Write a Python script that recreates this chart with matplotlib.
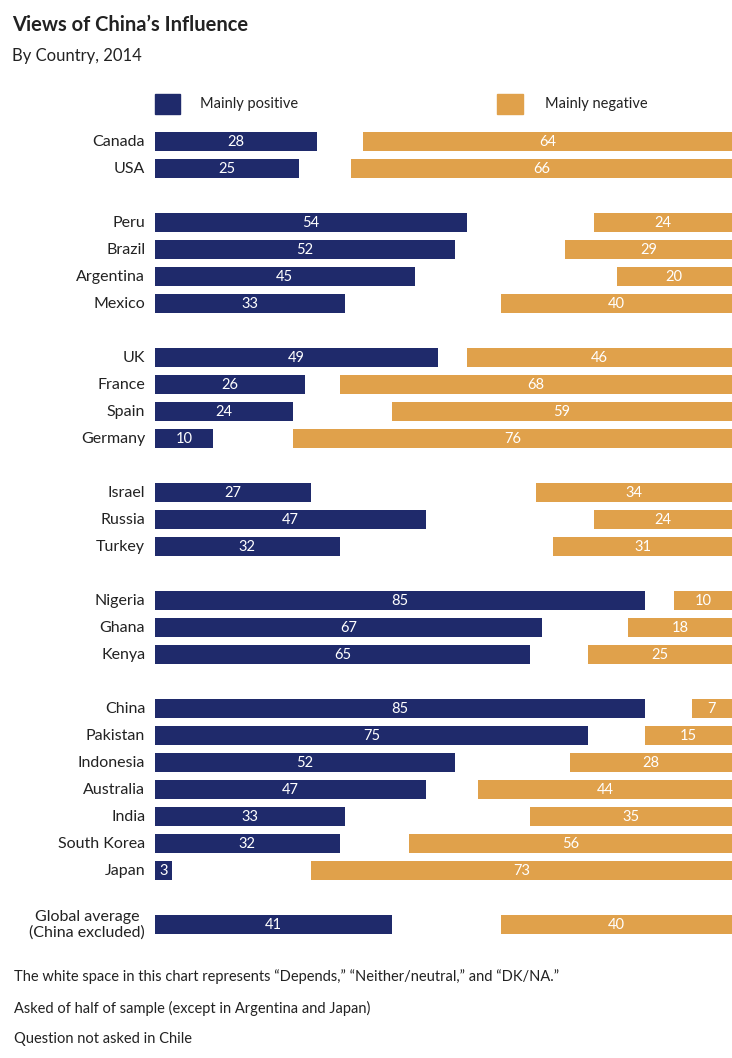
import matplotlib
matplotlib.use("Agg")
import matplotlib.pyplot as plt

countries = ["Canada","USA","Peru","Brazil","Argentina","Mexico","UK","France","Spain","Germany",
             "Israel","Russia","Turkey","Nigeria","Ghana","Kenya","China","Pakistan","Indonesia",
             "Australia","India","South Korea","Japan","Global average\n(China excluded)"]
positive = [28,25,54,52,45,33,49,26,24,10,27,47,32,85,67,65,85,75,52,47,33,32,3,41]
negative = [64,66,24,29,20,40,46,68,59,76,34,24,31,10,18,25,7,15,28,44,35,56,73,40]
rows = [0,1,3,4,5,6,8,9,10,11,13,14,15,17,18,19,21,22,23,24,25,26,27,29]

plt.rcParams['font.family'] = ['Lato', 'DejaVu Sans']
NAVY = "#1f2a6b"; ORANGE = "#e0a14b"

fig = plt.figure(figsize=(7.32, 10.58), dpi=100)
ax = fig.add_axes([155/732, 1-940/1058, 577/732, 810/1058])
h = 19/27
ax.barh(rows, positive, height=h, color=NAVY, left=0)
ax.barh(rows, negative, height=h, color=ORANGE, left=[100-v for v in negative])
for y, p, n, c in zip(rows, positive, negative, countries):
    ax.text(p/2, y, str(p), color="white", ha="center", va="center", fontsize=10.5)
    ax.text(100-n/2, y, str(n), color="white", ha="center", va="center", fontsize=10.5)
    ax.text(-1.7, y, c, ha="right", va="center", fontsize=11.5, color="#222222",
            linespacing=1.1, multialignment="center")
ax.set_xlim(0, 100)
ax.set_ylim(29.56, -0.444)
ax.axis("off")

fig.text(12/732, 1-25/1058, "Views of China\u2019s Influence", fontsize=14.5, fontweight="bold",
         va="center", color="#222222")
fig.text(12/732, 1-56/1058, "By Country, 2014", fontsize=12, va="center", color="#222222")
fig.patches.append(plt.Rectangle((155/732, 1-114/1058), 25/732, 20/1058, color=NAVY,
                                 transform=fig.transFigure, figure=fig))
fig.patches.append(plt.Rectangle((497/732, 1-114/1058), 26/732, 20/1058, color=ORANGE,
                                 transform=fig.transFigure, figure=fig))
fig.text(200/732, 1-104/1058, "Mainly positive", fontsize=10.5, va="center", color="#222222")
fig.text(545/732, 1-104/1058, "Mainly negative", fontsize=10.5, va="center", color="#222222")
notes = ["The white space in this chart represents \u201cDepends,\u201d \u201cNeither/neutral,\u201d and \u201cDK/NA.\u201d",
         "Asked of half of sample (except in Argentina and Japan)",
         "Question not asked in Chile"]
for i, t in enumerate(notes):
    fig.text(14/732, 1-(977+31*i)/1058, t, fontsize=10.5, va="center", color="#222222")
fig.savefig("out.png", dpi=100, facecolor="white")
